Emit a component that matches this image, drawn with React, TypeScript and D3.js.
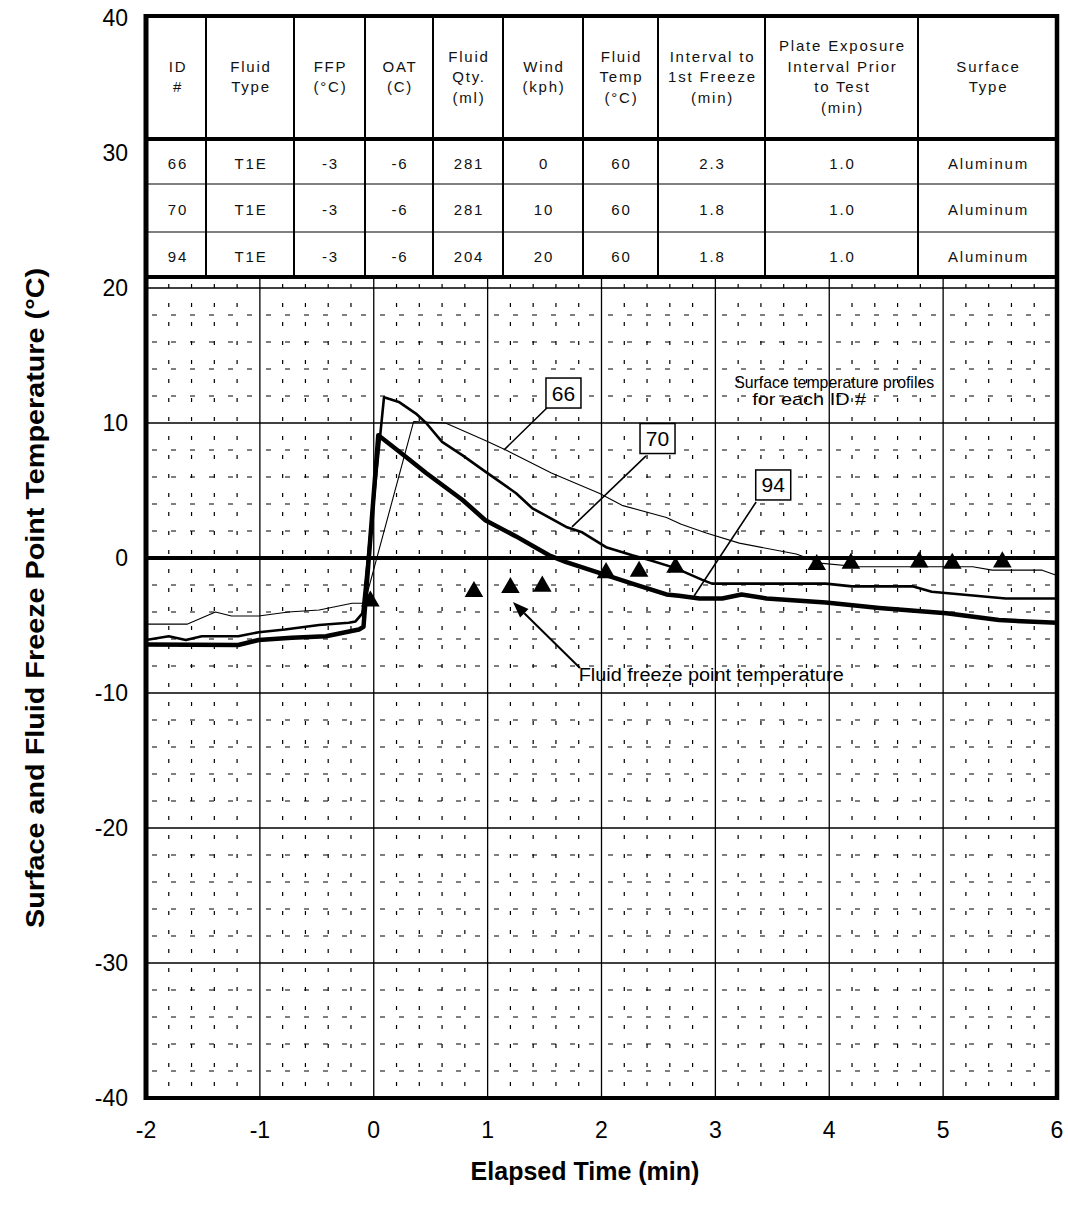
import React from "react";
import * as d3 from "d3";

type Pt = [number, number];

// ---------- data ----------
const xTickValues = [-2, -1, 0, 1, 2, 3, 4, 5, 6];
const yTickValues = [40, 30, 20, 10, 0, -10, -20, -30, -40];

// Surface temperature profiles (elapsed min, °C)
const surface66: Pt[] = [
  [-2, -4.9], [-1.64, -4.9], [-1.39, -4.0], [-1.25, -4.3], [-1.01, -4.3], [-0.75, -4.0],
  [-0.48, -3.85], [-0.19, -3.35], [-0.08, -3.35], [0.35, 10.1], [0.63, 10.0], [0.98, 8.7],
  [1.16, 8.0], [1.56, 6.3], [1.98, 4.8], [2.18, 3.9], [2.57, 3.0], [2.7, 2.5], [2.92, 1.85],
  [3.21, 1.1], [3.71, 0.3], [3.94, -0.4], [4.26, -0.65], [5.26, -0.65], [5.43, -0.9],
  [5.87, -0.9], [6.0, -1.3],
];
const surface70: Pt[] = [
  [-2, -6.07], [-1.8, -5.8], [-1.65, -6.07], [-1.51, -5.8], [-1.19, -5.8], [-1.01, -5.5],
  [-0.78, -5.3], [-0.48, -4.96], [-0.22, -4.8], [-0.16, -4.7], [-0.1, -4.1], [0.09, 11.9],
  [0.22, 11.56], [0.37, 10.7], [0.46, 10.0], [0.6, 8.6], [0.78, 7.6], [0.98, 6.4], [1.25, 4.8],
  [1.39, 3.7], [1.69, 2.3], [1.83, 1.9], [2.04, 0.8], [2.27, 0.2], [2.42, -0.15], [2.65, -0.75],
  [2.88, -1.6], [2.97, -1.9], [3.97, -1.9], [4.2, -2.1], [4.73, -2.1], [4.9, -2.5], [5.55, -3.0],
  [6.0, -3.0],
];
const surface94: Pt[] = [
  [-2, -6.4], [-1.19, -6.44], [-1.01, -6.07], [-0.72, -5.9], [-0.42, -5.8], [-0.13, -5.3],
  [-0.09, -5.1], [0.04, 9.1], [0.22, 7.9], [0.46, 6.3], [0.78, 4.3], [0.98, 2.8], [1.25, 1.6],
  [1.54, 0.2], [1.69, -0.3], [1.98, -1.1], [2.27, -1.9], [2.57, -2.7], [2.68, -2.8], [2.86, -3.0],
  [3.06, -3.0], [3.23, -2.7], [3.45, -3.0], [3.97, -3.3], [4.44, -3.7], [5.03, -4.1], [5.49, -4.6],
  [6.0, -4.8],
];
// Fluid freeze point temperature (triangles)
const fluidFreezePoint: Pt[] = [
  [-0.03, -3.2], [0.88, -2.5], [1.2, -2.2], [1.48, -2.1], [2.04, -1.1], [2.33, -1.0],
  [2.65, -0.7], [3.89, -0.5], [4.19, -0.4], [4.79, -0.3], [5.08, -0.4], [5.52, -0.3],
];

// Table
const tableHeader: string[][] = [
  ["ID", "#"], ["Fluid", "Type"], ["FFP", "(°C)"], ["OAT", "(C)"], ["Fluid", "Qty.", "(ml)"],
  ["Wind", "(kph)"], ["Fluid", "Temp", "(°C)"], ["Interval to", "1st Freeze", "(min)"],
  ["Plate Exposure", "Interval Prior", "to Test", "(min)"], ["Surface", "Type"],
];
const tableRows: string[][] = [
  ["66", "T1E", "-3", "-6", "281", "0", "60", "2.3", "1.0", "Aluminum"],
  ["70", "T1E", "-3", "-6", "281", "10", "60", "1.8", "1.0", "Aluminum"],
  ["94", "T1E", "-3", "-6", "204", "20", "60", "1.8", "1.0", "Aluminum"],
];

// ID labels: box centre, leader start, leader end (data units)
const idLabels = [
  { id: "66", box: [1.666, 12.22] as Pt, from: [1.52, 11.11] as Pt, to: [1.143, 8.0] as Pt },
  { id: "70", box: [2.492, 8.85] as Pt, from: [2.391, 7.56] as Pt, to: [1.741, 2.3] as Pt },
  { id: "94", box: [3.508, 5.41] as Pt, from: [3.358, 4.15] as Pt, to: [2.813, -2.81] as Pt },
];

const FONT = "'Liberation Sans', Arial, Helvetica, sans-serif";

export default function App() {
  const W = 1068;
  const H = 1205;
  const x = d3.scaleLinear().domain([-2, 6]).range([146, 1057]);
  const y = d3.scaleLinear().domain([-40, 40]).range([1098, 18]);
  const line = d3.line<Pt>().x((d) => x(d[0])).y((d) => y(d[1]));
  const tri = d3.symbol().type(d3.symbolTriangle).size(150)() as string;

  const minorX = d3.range(1, 40).map((k) => -2 + k * 0.2).filter((v) => Math.abs(v - Math.round(v)) > 1e-6);
  const minorY = d3.range(-38, 40, 2).filter((v) => v % 10 !== 0);
  const majorX = [-1, 0, 1, 2, 3, 4, 5];
  const majorY = [30, 20, 10, -10, -20, -30];

  const colEdges = [148, 206, 294, 365, 433, 503, 583, 658, 765, 918, 1057];
  const rowEdges = [16, 139, 184, 232, 277];

  // arrow
  const aTail: Pt = [1.811, -8.15];
  const aHead: Pt = [1.222, -3.26];
  const tx = x(aTail[0]), ty = y(aTail[1]), hx = x(aHead[0]), hy = y(aHead[1]);
  const ang = Math.atan2(hy - ty, hx - tx);
  const aL = 16, aW = 6;
  const bx = hx - aL * Math.cos(ang), by = hy - aL * Math.sin(ang);
  const arrowHead = `M${hx},${hy} L${bx + aW * Math.sin(ang)},${by - aW * Math.cos(ang)} L${bx - aW * Math.sin(ang)},${by + aW * Math.cos(ang)} Z`;

  return (
    <svg width={W} height={H} style={{ position: "absolute", left: 0, top: 0, display: "block", background: "#fff" }} fontFamily={FONT}>
      <rect x={0} y={0} width={W} height={H} fill="#fff" />
      {/* minor dotted grid */}
      <g stroke="#000" strokeWidth={1.2}>
        {minorX.map((v) => (
          <line key={"mx" + v} x1={x(v)} x2={x(v)} y1={y(40)} y2={y(-40)} strokeDasharray="4,15" />
        ))}
        {minorY.map((v) => (
          <line key={"my" + v} x1={x(-2)} x2={x(6)} y1={y(v)} y2={y(v)} strokeDasharray="5,14" strokeDashoffset={-6} />
        ))}
      </g>
      {/* major grid */}
      <g stroke="#000" strokeWidth={1.3}>
        {majorX.map((v) => (
          <line key={"Mx" + v} x1={x(v)} x2={x(v)} y1={y(40)} y2={y(-40)} />
        ))}
        {majorY.map((v) => (
          <line key={"My" + v} x1={x(-2)} x2={x(6)} y1={y(v)} y2={y(v)} />
        ))}
      </g>
      {/* zero line */}
      <line x1={x(-2)} x2={x(6)} y1={y(0)} y2={y(0)} stroke="#000" strokeWidth={4} />

      {/* surface profiles */}
      <path d={line(surface66) || ""} fill="none" stroke="#000" strokeWidth={1.1} strokeLinejoin="round" />
      <path d={line(surface70) || ""} fill="none" stroke="#000" strokeWidth={2.6} strokeLinejoin="round" />
      <path d={line(surface94) || ""} fill="none" stroke="#000" strokeWidth={4.5} strokeLinejoin="round" />

      {/* freeze points */}
      {fluidFreezePoint.map((d, i) => (
        <path key={"t" + i} d={tri} transform={`translate(${x(d[0])},${y(d[1])})`} fill="#000" />
      ))}

      {/* ID labels */}
      {idLabels.map((l) => (
        <g key={l.id}>
          <line x1={x(l.from[0])} y1={y(l.from[1])} x2={x(l.to[0])} y2={y(l.to[1])} stroke="#000" strokeWidth={1.6} />
          <rect x={x(l.box[0]) - 17.5} y={y(l.box[1]) - 15} width={35} height={30} fill="#fff" stroke="#000" strokeWidth={1.5} />
          <text x={x(l.box[0])} y={y(l.box[1]) + 7.5} textAnchor="middle" fontSize={21} fill="#000">{l.id}</text>
        </g>
      ))}

      {/* annotations */}
      <text x={x(3.165)} y={y(12.6)} fontSize={17} fill="#000" textLength={200} lengthAdjust="spacingAndGlyphs">Surface temperature profiles</text>
      <text x={x(3.323)} y={y(11.33)} fontSize={17} fill="#000" textLength={114} lengthAdjust="spacingAndGlyphs">for each ID #</text>
      <text x={x(1.8)} y={y(-9.11)} fontSize={18} fill="#000" textLength={265} lengthAdjust="spacingAndGlyphs">Fluid freeze point temperature</text>
      <line x1={tx} y1={ty} x2={bx} y2={by} stroke="#000" strokeWidth={2} />
      <path d={arrowHead} fill="#000" />

      {/* table */}
      <rect x={colEdges[0]} y={rowEdges[0]} width={colEdges[10] - colEdges[0]} height={rowEdges[4] - rowEdges[0]} fill="#fff" />
      <g stroke="#000">
        {colEdges.slice(1, -1).map((cx) => (
          <line key={"c" + cx} x1={cx} x2={cx} y1={rowEdges[0]} y2={rowEdges[4]} strokeWidth={2} />
        ))}
        <line x1={colEdges[0]} x2={colEdges[10]} y1={rowEdges[2]} y2={rowEdges[2]} strokeWidth={1.2} />
        <line x1={colEdges[0]} x2={colEdges[10]} y1={rowEdges[3]} y2={rowEdges[3]} strokeWidth={1.2} />
        <line x1={colEdges[0]} x2={colEdges[10]} y1={rowEdges[1]} y2={rowEdges[1]} strokeWidth={4} />
        <line x1={colEdges[0] - 2} x2={colEdges[10] + 2} y1={rowEdges[4]} y2={rowEdges[4]} strokeWidth={4} />
        <line x1={colEdges[0] - 2} x2={colEdges[10] + 2} y1={rowEdges[0]} y2={rowEdges[0]} strokeWidth={4} />
      </g>
      <g fontSize={15} letterSpacing={1.8} fill="#111" textAnchor="middle">
        {tableHeader.map((lines, ci) => {
          const cx = (colEdges[ci] + colEdges[ci + 1]) / 2 + 1;
          const cy = 77;
          const step = 20.5;
          return lines.map((t, li) => (
            <text key={"h" + ci + "-" + li} x={cx} y={cy + (li - (lines.length - 1) / 2) * step + 5}>{t}</text>
          ));
        })}
        {tableRows.map((row, ri) =>
          row.map((t, ci) => (
            <text key={"r" + ri + "-" + ci} x={(colEdges[ci] + colEdges[ci + 1]) / 2 + 1} y={(rowEdges[ri + 1] + rowEdges[ri + 2]) / 2 + 7}>{t}</text>
          ))
        )}
      </g>

      {/* frame */}
      <g stroke="#000" fill="none">
        <line x1={x(-2)} x2={x(-2)} y1={14} y2={y(-40) + 2} strokeWidth={5} />
        <line x1={x(6)} x2={x(6)} y1={14} y2={y(-40) + 2} strokeWidth={4.5} />
        <line x1={x(-2) - 2} x2={x(6) + 2} y1={y(-40)} y2={y(-40)} strokeWidth={4} />
      </g>

      {/* tick labels */}
      <g fontSize={23} fill="#000">
        {yTickValues.map((v) => (
          <text key={"yl" + v} x={128} y={y(v) + 8} textAnchor="end">{v}</text>
        ))}
        {xTickValues.map((v) => (
          <text key={"xl" + v} x={x(v)} y={1138} textAnchor="middle">{v}</text>
        ))}
      </g>

      {/* axis titles */}
      <text x={585} y={1180} textAnchor="middle" fontSize={25} fontWeight="bold" fill="#000">Elapsed Time (min)</text>
      <text transform={`translate(44,598) rotate(-90)`} textAnchor="middle" fontSize={26} fontWeight="bold" fill="#000" textLength={660} lengthAdjust="spacingAndGlyphs">Surface and Fluid Freeze Point Temperature (°C)</text>
    </svg>
  );
}
